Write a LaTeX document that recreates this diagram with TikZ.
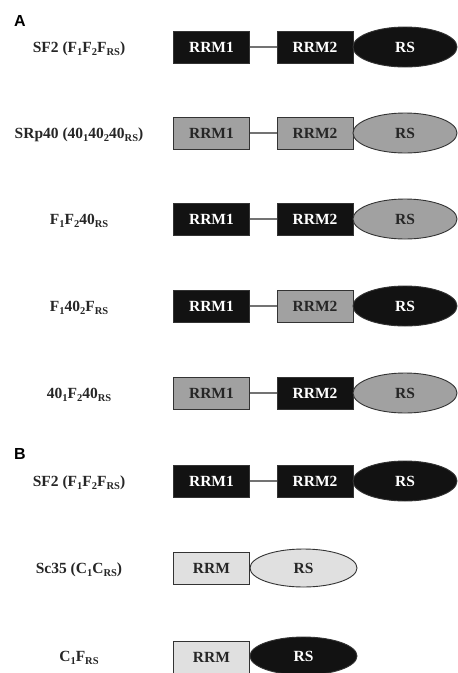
\documentclass[tikz,border=0pt]{standalone}
\usepackage{fontspec}
\setmainfont{Liberation Serif}
\newfontfamily\panelfont{Liberation Sans}
\usetikzlibrary{shapes.geometric}
\definecolor{dk}{gray}{0.07}
\definecolor{md}{gray}{0.63}
\definecolor{lt}{gray}{0.88}
\definecolor{edge}{gray}{0.2}
\definecolor{linkc}{gray}{0.45}
\newcommand\sbs[1]{\raisebox{-0.35ex}{\fontsize{10.5}{10.5}\selectfont #1}}
\tikzset{
  x=1pt, y=-1pt,
  dom/.style={rectangle, draw=edge, line width=0.9pt, minimum width=76pt, minimum height=32pt, inner sep=0pt, font=\fontsize{15.5}{15.5}\selectfont\bfseries},
  rsdom/.style={ellipse, draw=edge, line width=0.9pt, minimum width=104pt, minimum height=40pt, inner sep=0pt, font=\fontsize{15.5}{15.5}\selectfont\bfseries},
  blk/.style={fill=dk, text=white},
  gry/.style={fill=md, text=black!85},
  lgt/.style={fill=lt, text=black!85},
  link/.style={draw=linkc, line width=1.4pt},
  lbl/.style={font=\fontsize{15.5}{15.5}\selectfont\bfseries, text=black!85, yshift=-2pt},
  panel/.style={font=\panelfont\fontsize{16}{16}\selectfont\bfseries}
}
\begin{document}
\begin{tikzpicture}
\useasboundingbox (0,0) rectangle (458,673);
\node[panel] (pA) at (20,21) {A};
\node[panel] (pB) at (20,454) {B};
\newcommand\rowthree[6]{%
  \node[lbl] (l#1) at (79,#2) {#3};
  \node[dom,#4] (a#1) at (211.5,#2) {RRM1};
  \node[dom,#5] (b#1) at (315,#2) {RRM2};
  \draw[link] (a#1.east) -- (b#1.west);
  \node[rsdom,#6] (c#1) at (405,#2) {RS};
}
\rowthree{1}{47}{SF2 (F\sbs{1}F\sbs{2}F\sbs{RS})}{blk}{blk}{blk}
\rowthree{2}{133}{SRp40 (40\sbs{1}40\sbs{2}40\sbs{RS})}{gry}{gry}{gry}
\rowthree{3}{219}{F\sbs{1}F\sbs{2}40\sbs{RS}}{blk}{blk}{gry}
\rowthree{4}{306}{F\sbs{1}40\sbs{2}F\sbs{RS}}{blk}{gry}{blk}
\rowthree{5}{393}{40\sbs{1}F\sbs{2}40\sbs{RS}}{gry}{blk}{gry}
\rowthree{6}{481}{SF2 (F\sbs{1}F\sbs{2}F\sbs{RS})}{blk}{blk}{blk}
\node[lbl] (l7) at (79,568) {Sc35 (C\sbs{1}C\sbs{RS})};
\node[dom,lgt] (a7) at (211.5,568) {RRM};
\node[rsdom,lgt,minimum width=107pt,minimum height=38pt] (c7) at (303.5,568) {RS};
\node[lbl] (l8) at (79,656) {C\sbs{1}F\sbs{RS}};
\node[dom,lgt] (a8) at (211.5,657) {RRM};
\node[rsdom,blk,minimum width=107pt,minimum height=38pt] (c8) at (303.5,656) {RS};
\end{tikzpicture}
\end{document}
